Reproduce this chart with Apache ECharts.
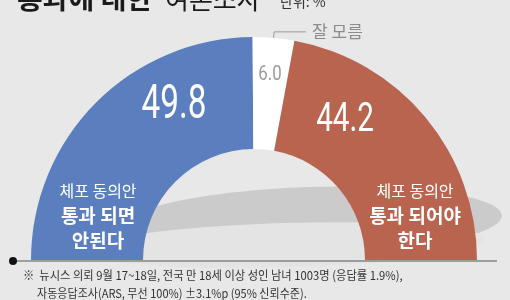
<!DOCTYPE html>
<html>
<head>
<meta charset="utf-8">
<script src="https://cdn.jsdelivr.net/npm/echarts@6/dist/echarts.min.js"></script>
<style>
html,body{margin:0;padding:0;background:#e8e8e8;}
#chart{width:510px;height:300px;}
</style>
</head>
<body>
<div id="chart"></div>
<script>
// ---- data ----
const categories = [
  ['체포 동의안', '통과 되면', '안된다'],
  ['잘 모름'],
  ['체포 동의안', '통과 되어야', '한다']
];
const values = [49.8, 6.0, 44.2];
const titleBold = '통과에 대한';
const titleLight = '여론조사';
const unitText = '단위: %';
const footnote1 = '※  뉴시스 의뢰 9월 17~18일, 전국 만 18세 이상 성인 남녀 1003명 (응답률 1.9%),';
const footnote2 = '자동응답조사(ARS, 무선 100%) ±3.1%p (95% 신뢰수준).';

// ---- styling / layout (not data) ----
const colors = ['#5b7fbe', '#ffffff', '#b8644f'];
const FONT = '"Noto Sans CJK KR", "Noto Sans", sans-serif';
const NUMFONT = '"Roboto", "Liberation Sans", sans-serif';
const CX = 254, CY = 260, R0 = 111, R1 = 223;
const valuePos = [[174, 106], [270, 75], [345, 121]];
const valueSize = [49, 21, 40];
const valueScale = [0.68, 0.8, 0.74];
const valueColor = ['#ffffff', '#9a9a9a', '#ffffff'];
const catPos = [[98, 216], null, [415, 216]];

const chart = echarts.init(document.getElementById('chart'), null, {renderer: 'canvas'});

const valueTexts = values.map((v, i) => ({
  type: 'text', z: 70, x: valuePos[i][0], y: valuePos[i][1],
  scaleX: valueScale[i],
  style: {
    text: v.toFixed(1), font: valueSize[i] + 'px ' + NUMFONT, fill: valueColor[i],
    textAlign: 'center', textVerticalAlign: 'middle'
  }
}));

const option = {
  backgroundColor: '#e8e8e8',
  animation: false,
  graphic: [
    // decorative shadow ellipse behind the donut
    {type: 'ellipse', z: -10, x: 310, y: 222, rotation: 0.035,
     shape: {cx: 0, cy: 0, rx: 192, ry: 35}, style: {fill: '#cbcbcb'}},
    {type: 'ellipse', z: -9, x: 285, y: 245, rotation: 0.03,
     shape: {cx: 0, cy: 0, rx: 200, ry: 22}, style: {fill: '#e4e4e4'}},
    // baseline with dot
    {type: 'line', z: 50, shape: {x1: 13, y1: 261, x2: 497, y2: 261},
     style: {stroke: '#555555', lineWidth: 1}},
    {type: 'circle', z: 51, shape: {cx: 13, cy: 261, r: 4}, style: {fill: '#111111'}},
    // title (partially cut at top)
    {type: 'text', z: 60, x: 17, y: 12, style: {text: titleBold, font: 'bold 28px ' + FONT,
      fill: '#1a1a1a', textVerticalAlign: 'bottom'}},
    {type: 'text', z: 60, x: 165, y: 12, style: {text: titleLight, font: '26px ' + FONT,
      fill: '#1a1a1a', textVerticalAlign: 'bottom'}},
    {type: 'text', z: 60, x: 280, y: 9, style: {text: unitText, font: '14px ' + FONT,
      fill: '#333333', textVerticalAlign: 'bottom'}},
    // footnote
    {type: 'text', z: 60, x: 23, y: 275, scaleX: 0.94, style: {text: footnote1, font: '12px ' + FONT,
      fill: '#333333', textVerticalAlign: 'middle'}},
    {type: 'text', z: 60, x: 37, y: 293, scaleX: 0.92, style: {text: footnote2, font: '12px ' + FONT,
      fill: '#333333', textVerticalAlign: 'middle'}}
  ].concat(valueTexts),
  series: [
    {
      type: 'pie',
      z: 2,
      silent: true,
      center: [CX, CY],
      radius: [R0, R1],
      startAngle: 180,
      endAngle: 0,
      clockwise: true,
      data: values.map((v, i) => ({
        value: v,
        name: categories[i].join(' '),
        itemStyle: {color: colors[i]},
        label: i === 1 ? {
          show: true, position: 'outside', color: '#8c8c8c', fontSize: 17,
          fontFamily: FONT, distanceToLabelLine: 6,
          formatter: () => categories[i][0]
        } : {
          show: true, position: 'inside', color: '#ffffff', fontFamily: FONT,
          lineHeight: 24,
          formatter: () => '{a|' + categories[i][0] + '}\n{b|' + categories[i][1] + '}\n{b|' + categories[i][2] + '}',
          rich: {
            a: {fontSize: 16, color: '#ffffff', fontFamily: FONT, lineHeight: 24},
            b: {fontSize: 19, fontWeight: 'bold', color: '#ffffff', fontFamily: FONT, lineHeight: 25}
          }
        },
        labelLine: i === 1 ? {show: true, length: 6, length2: 32, smooth: false,
          lineStyle: {color: '#999999', width: 1}} : {show: false}
      })),
      labelLayout: p => {
        const pos = catPos[p.dataIndex];
        if (!pos) return {};
        return {x: pos[0], y: pos[1], align: 'center', verticalAlign: 'middle'};
      },
      emphasis: {disabled: true}
    }
  ]
};
chart.setOption(option);
</script>
</body>
</html>
